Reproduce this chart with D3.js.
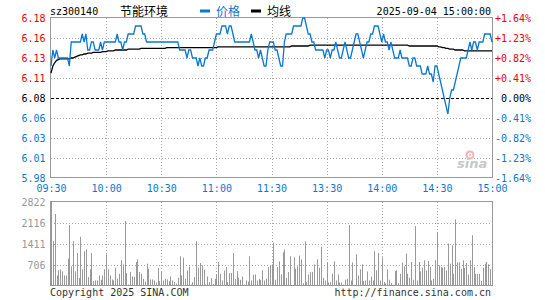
<!DOCTYPE html>
<html><head><meta charset="utf-8">
<script src="https://cdn.jsdelivr.net/npm/d3@7/dist/d3.min.js"></script>
<style>
body{margin:0;background:#fff;}
svg{display:block;}
text{font-family:"DejaVu Sans Mono",monospace;font-size:10px;}
</style>
</head><body>
<svg id="c" width="545" height="300"></svg>
<script>
const symbol = "sz300140";
const stockName = "节能环境";
const dateTime = "2025-09-04 15:00:00";
const legendNames = ["价格", "均线"];
const prevClose = 6.08;
const timeLabels = ["09:30","10:00","10:30","11:00","11:30","13:30","14:00","14:30","15:00"];
const priceLabels = ["6.18","6.16","6.13","6.11","6.08","6.06","6.03","6.01","5.98"];
const pctLabels = ["+1.64%","+1.23%","+0.82%","+0.41%","0.00%","-0.41%","-0.82%","-1.23%","-1.64%"];
const volLabels = ["2822","2116","1411","706"];
const volMax = 2822;

const price = [
6.12,6.14,6.13,6.14,6.13,6.13,6.13,6.13,6.13,6.13,
6.12,6.15,6.15,6.15,6.15,6.15,6.15,6.16,6.15,6.16,
6.14,6.14,6.15,6.15,6.14,6.14,6.14,6.15,6.14,6.15,
6.15,6.15,6.15,6.15,6.15,6.15,6.16,6.15,6.15,6.14,
6.15,6.15,6.16,6.16,6.16,6.16,6.17,6.17,6.17,6.17,
6.16,6.16,6.15,6.15,6.15,6.15,6.15,6.15,6.15,6.15,
6.15,6.15,6.15,6.15,6.15,6.15,6.15,6.15,6.15,6.15,
6.14,6.14,6.14,6.14,6.13,6.14,6.14,6.13,6.13,6.13,
6.12,6.13,6.12,6.12,6.13,6.13,6.14,6.14,6.14,6.15,
6.16,6.16,6.16,6.17,6.17,6.17,6.16,6.17,6.17,6.16,
6.15,6.15,6.15,6.15,6.15,6.15,6.15,6.15,6.15,6.16,
6.15,6.14,6.14,6.13,6.14,6.13,6.12,6.12,6.14,6.15,
6.15,6.15,6.14,6.14,6.13,6.12,6.12,6.15,6.16,6.16,
6.16,6.16,6.17,6.17,6.17,6.17,6.17,6.18,6.18,6.17,
6.16,6.16,6.15,6.15,6.14,6.14,6.14,6.14,6.14,6.13,
6.14,6.14,6.13,6.14,6.14,6.15,6.14,6.13,6.13,6.14,
6.15,6.14,6.13,6.13,6.14,6.15,6.16,6.16,6.15,6.14,
6.13,6.14,6.15,6.15,6.16,6.16,6.17,6.17,6.17,6.16,
6.15,6.16,6.15,6.15,6.14,6.15,6.14,6.13,6.13,6.13,
6.14,6.13,6.13,6.13,6.13,6.12,6.12,6.13,6.13,6.12,
6.12,6.12,6.11,6.11,6.11,6.12,6.11,6.11,6.10,6.12,
6.12,6.11,6.10,6.09,6.08,6.07,6.06,6.08,6.09,6.09,
6.10,6.11,6.12,6.13,6.13,6.13,6.13,6.14,6.15,6.14,
6.15,6.15,6.14,6.15,6.15,6.15,6.16,6.16,6.16,6.16,6.15
];

const avg = [
6.111,6.120,6.124,6.127,6.128,6.129,6.129,6.129,6.129,6.129,
6.129,6.130,6.130,6.131,6.132,6.133,6.134,6.134,6.135,6.135,
6.136,6.136,6.136,6.137,6.137,6.137,6.137,6.137,6.138,6.138,
6.138,6.139,6.139,6.139,6.139,6.140,6.140,6.140,6.140,6.140,
6.140,6.140,6.141,6.141,6.141,6.141,6.141,6.141,6.141,6.142,
6.142,6.142,6.142,6.142,6.142,6.142,6.142,6.142,6.142,6.142,
6.142,6.142,6.142,6.143,6.143,6.143,6.143,6.143,6.143,6.143,
6.143,6.143,6.143,6.143,6.143,6.143,6.143,6.143,6.143,6.143,
6.143,6.143,6.143,6.143,6.143,6.143,6.143,6.143,6.143,6.143,
6.143,6.144,6.144,6.144,6.144,6.144,6.144,6.144,6.144,6.144,
6.144,6.144,6.144,6.144,6.144,6.144,6.144,6.144,6.144,6.144,
6.144,6.144,6.144,6.144,6.144,6.144,6.144,6.144,6.144,6.144,
6.144,6.144,6.144,6.144,6.144,6.144,6.144,6.144,6.144,6.144,
6.144,6.145,6.145,6.145,6.145,6.145,6.145,6.145,6.145,6.145,
6.145,6.146,6.146,6.146,6.146,6.146,6.146,6.146,6.146,6.146,
6.146,6.146,6.146,6.146,6.146,6.146,6.146,6.146,6.146,6.146,
6.146,6.146,6.146,6.146,6.146,6.146,6.146,6.146,6.146,6.146,
6.146,6.146,6.146,6.146,6.146,6.146,6.146,6.146,6.146,6.146,
6.146,6.146,6.146,6.146,6.146,6.146,6.146,6.146,6.146,6.146,
6.146,6.146,6.146,6.146,6.146,6.145,6.145,6.145,6.145,6.145,
6.145,6.145,6.145,6.145,6.145,6.145,6.145,6.145,6.145,6.145,
6.145,6.144,6.144,6.143,6.143,6.142,6.142,6.141,6.141,6.141,
6.140,6.140,6.140,6.140,6.140,6.139,6.139,6.139,6.139,6.139,
6.139,6.139,6.139,6.139,6.139,6.139,6.139,6.139,6.139,6.139,6.139
];

const volume = [
2822,1505,2417,355,524,558,490,355,355,918,
2045,659,1505,490,1110,265,1651,558,1166,1223,300,
558,1110,163,186,186,355,208,355,558,1065,
558,355,220,186,614,242,411,862,727,2181,
434,51,468,321,299,806,896,468,411,242,150,
749,580,220,220,186,118,603,163,490,186,
242,220,163,321,186,130,80,276,997,355,
952,242,524,659,51,130,299,1505,614,772,
693,547,51,321,130,260,
73,242,389,806,411,
186,524,637,130,434,434,1110,242,501,276,
208,321,51,186,141,997,186,378,389,186,230,
208,524,186,242,637,693,727,
1460,208,637,828,389,1133,1223,276,468,997,
40,964,580,659,1020,896,96,1505,130,389,
468,468,727,40,896,614,1313,276,186,772,120,
130,411,828,186,389,118,118,51,208,242,
2045,186,795,40,1065,355,558,727,163,186,
490,186,321,186,1166,524,1110,186,964,130,90,
558,208,96,40,501,524,96,411,783,659,
1088,411,276,806,208,2012,186,806,490,614,
862,524,840,637,186,242,862,1798,693,637,
614,637,524,1426,749,1369,411,2237,795,795,
580,862,603,772,389,862,1707,637,411,411,
411,163,614,749,806,727,560,700
];

const RED = "#f00000", BLUE = "#0a78d2", GRAY = "#999", GRID = "#aaa";
const svg = d3.select("#c");
const L = 51, R = 492, PT = 18, PB = 178, VT = 202, VB = 286;

const x = d3.scaleLinear().domain([0, 240]).range([L, R]);
const y = d3.scaleLinear().domain([prevClose - 0.10, prevClose + 0.10]).range([PB, PT]);
const yv = d3.scaleLinear().domain([0, volMax]).range([VB, VT]);

const timeIdx = d3.range(0, 241, 30);
const priceLevels = d3.range(4, -5, -1).map(k => prevClose + k * 0.025);
const volLevels = [volMax, volMax * 0.75, volMax * 0.5, volMax * 0.25];

// ---------- price grid ----------
const g = svg.append("g");
g.selectAll(".hg").data(priceLevels.slice(1, 8)).join("line")
  .attr("x1", L).attr("x2", R)
  .attr("y1", d => Math.round(y(d)) + 0.5).attr("y2", d => Math.round(y(d)) + 0.5)
  .attr("stroke", (d, i) => i === 3 ? "#000" : GRID)
  .attr("stroke-dasharray", (d, i) => i === 3 ? "3,2" : "1,2");
g.selectAll(".vg").data(timeIdx.slice(1, 8)).join("line")
  .attr("x1", d => Math.round(x(d)) + 0.5).attr("x2", d => Math.round(x(d)) + 0.5)
  .attr("y1", PT).attr("y2", PB)
  .attr("stroke", GRID).attr("stroke-dasharray", "1,2");

// watermark
const wm = svg.append("g");
wm.append("circle").attr("cx", 470).attr("cy", 155).attr("r", 3.5)
  .attr("fill", "none").attr("stroke", "#f2b3b3").attr("stroke-width", 2);
wm.append("circle").attr("cx", 470).attr("cy", 155).attr("r", 1).attr("fill", "#f2b3b3");
wm.append("text").attr("x", 457).attr("y", 168)
  .style("font-family", "DejaVu Sans").style("font-size", "13px").style("font-weight", "bold")
  .style("font-style", "italic").attr("fill", "#c8c8c8").text("sina");

// price border
svg.append("rect").attr("x", L - 0.5).attr("y", PT - 0.5).attr("width", R - L + 1).attr("height", PB - PT)
  .attr("fill", "none").attr("stroke", GRAY);

// lines
const line = d3.line().x((d, i) => x(i)).y(d => y(d));
svg.append("path").datum(avg).attr("d", line).attr("fill", "none").attr("stroke", "#000").attr("stroke-width", 1.3);
svg.append("path").datum(price).attr("d", line).attr("fill", "none").attr("stroke", BLUE).attr("stroke-width", 1.3);

// left price axis
const ax1 = svg.append("g").attr("transform", `translate(${L - 0.5},0)`)
  .call(d3.axisLeft(y).tickValues(priceLevels).tickSize(0).tickPadding(5).tickFormat((d, i) => priceLabels[i]));
ax1.select(".domain").remove();
ax1.selectAll("text").style("font-family", "DejaVu Sans Mono").style("font-size", "10px")
  .attr("fill", (d, i) => i < 4 ? RED : (i === 4 ? "#000" : BLUE));

// right pct axis
const ax2 = svg.append("g").attr("transform", `translate(${R},0)`)
  .call(d3.axisRight(y).tickValues(priceLevels).tickSize(0).tickPadding(39).tickFormat((d, i) => pctLabels[i]));
ax2.select(".domain").remove();
ax2.selectAll("text").style("font-family", "DejaVu Sans Mono").style("font-size", "10px")
  .attr("text-anchor", "end")
  .attr("fill", (d, i) => i < 4 ? RED : (i === 4 ? "#000" : BLUE));

// time axis
const ax3 = svg.append("g").attr("transform", `translate(0,${PB})`)
  .call(d3.axisBottom(x).tickValues(timeIdx).tickSize(0).tickPadding(7).tickFormat((d, i) => timeLabels[i]));
ax3.select(".domain").remove();
ax3.selectAll("text").style("font-family", "DejaVu Sans Mono").style("font-size", "10px").attr("fill", BLUE);

// ---------- volume ----------
svg.selectAll(".vhg").data(volLevels.slice(1)).join("line")
  .attr("x1", L).attr("x2", R)
  .attr("y1", d => Math.round(yv(d)) + 0.5).attr("y2", d => Math.round(yv(d)) + 0.5)
  .attr("stroke", GRID).attr("stroke-dasharray", "1,2");
svg.selectAll(".vvg").data(timeIdx.slice(1, 8)).join("line")
  .attr("x1", d => Math.round(x(d)) + 0.5).attr("x2", d => Math.round(x(d)) + 0.5)
  .attr("y1", VT).attr("y2", VB)
  .attr("stroke", GRID).attr("stroke-dasharray", "1,2");
svg.selectAll(".bar").data(volume).join("line")
  .attr("x1", (d, i) => Math.round(x(i)) + 0.5).attr("x2", (d, i) => Math.round(x(i)) + 0.5)
  .attr("y1", yv(0)).attr("y2", d => yv(d))
  .attr("stroke", GRAY).attr("stroke-width", 1);
svg.append("rect").attr("x", L - 0.5).attr("y", VT - 0.5).attr("width", R - L + 1).attr("height", VB - VT)
  .attr("fill", "none").attr("stroke", GRAY);

const ax4 = svg.append("g").attr("transform", `translate(${L - 0.5},0)`)
  .call(d3.axisLeft(yv).tickValues(volLevels).tickSize(0).tickPadding(5).tickFormat((d, i) => volLabels[i]));
ax4.select(".domain").remove();
ax4.selectAll("text").style("font-family", "DejaVu Sans Mono").style("font-size", "10px").attr("fill", "#999");

// ---------- header ----------
svg.append("text").attr("x", 50).attr("y", 15).attr("fill", "#000").text(symbol);
svg.append("text").attr("x", 120).attr("y", 16).attr("fill", "#000")
  .style("font-family", "'Noto Sans CJK SC'").style("font-size", "12px").text(stockName);
svg.append("rect").attr("x", 200).attr("y", 9.5).attr("width", 10).attr("height", 3).attr("fill", BLUE);
svg.append("text").attr("x", 216).attr("y", 16).attr("fill", BLUE)
  .style("font-family", "'Noto Sans CJK SC'").style("font-size", "12px").text(legendNames[0]);
svg.append("rect").attr("x", 251).attr("y", 9.5).attr("width", 10).attr("height", 3).attr("fill", "#000");
svg.append("text").attr("x", 267).attr("y", 16).attr("fill", "#000")
  .style("font-family", "'Noto Sans CJK SC'").style("font-size", "12px").text(legendNames[1]);
svg.append("text").attr("x", 491).attr("y", 15).attr("text-anchor", "end").attr("fill", "#000").text(dateTime);

// ---------- footer ----------
svg.append("text").attr("x", 50).attr("y", 296).attr("fill", "#333").text("Copyright 2025 SINA.COM");
svg.append("text").attr("x", 491).attr("y", 296).attr("text-anchor", "end").attr("fill", "#333").text("http://finance.sina.com.cn");
</script>
</body></html>
